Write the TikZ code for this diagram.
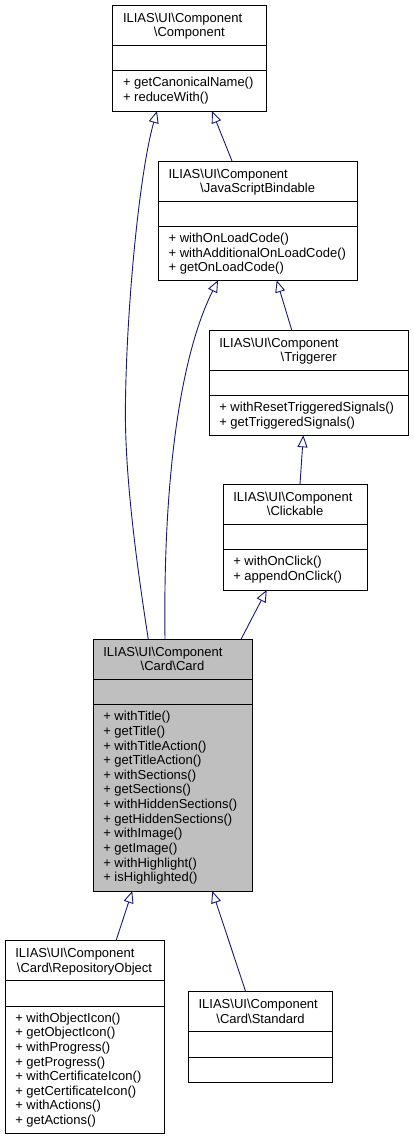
\documentclass[tikz,border=0pt]{standalone}
\usepackage{fontspec}
\setmainfont{Liberation Sans}
\usetikzlibrary{arrows.meta}
\definecolor{edgeblue}{HTML}{191970}
\definecolor{cardgray}{HTML}{BFBFBF}
\tikzset{
  classbox/.style={draw=black, line width=1pt, inner sep=0pt, outer sep=0pt},
  boxline/.style={draw=black, line width=1pt},
  txt/.style={inner sep=0pt, outer sep=0pt, font=\fontsize{13pt}{14.63pt}\selectfont},
  inherit/.style={draw=edgeblue, line width=0.9pt, -{Triangle[length=12pt,width=10pt,fill=white]}}
}
% id, L, T, R, B, fill, second title line
\newcommand{\umlbox}[7]{%
  \node[classbox, fill=#6, anchor=north west, minimum width={#4pt-#2pt}, minimum height={#5pt-#3pt}] (#1) at (#2,#3) {};
  \draw[boxline] ([yshift=-40pt]#1.north west) -- ([yshift=-40pt]#1.north east);
  \draw[boxline] ([yshift=-65.5pt]#1.north west) -- ([yshift=-65.5pt]#1.north east);
  \node[txt, anchor=base west] (#1-t1) at (#2+10.3,#3+17) {ILIAS\textbackslash UI\textbackslash Component};
  \node[txt, anchor=base] (#1-t2) at ({(#2+#4)/2},#3+31.6) {#7};
}
% L, T, list
\newcommand{\umlmethods}[3]{%
  \foreach \m [count=\i from 0] in {#3} {\node[txt, anchor=base west] at (#1+10.3, #2+81.5+\i*14.63) {+ \m};}
}
\begin{document}
\begin{tikzpicture}[x=1pt,y=-1pt]
\useasboundingbox (0,0) rectangle (413,1140);

\umlbox{comp}{112.7}{5.3}{266}{111}{white}{\textbackslash Component}
\umlmethods{112.7}{5.3}{getCanonicalName(),reduceWith()}

\umlbox{jsb}{158.3}{161}{357}{280.3}{white}{\textbackslash JavaScriptBindable}
\umlmethods{158.3}{161}{withOnLoadCode(),withAdditionalOnLoadCode(),getOnLoadCode()}

\umlbox{trig}{209}{330}{408.3}{435.3}{white}{\textbackslash Triggerer}
\umlmethods{209}{330}{withResetTriggeredSignals(),getTriggeredSignals()}

\umlbox{click}{223}{484.3}{367.3}{590}{white}{\textbackslash Clickable}
\umlmethods{223}{484.3}{withOnClick(),appendOnClick()}

\umlbox{card}{93}{639.3}{252}{891}{cardgray}{\textbackslash Card\textbackslash Card}
\umlmethods{93}{639.3}{withTitle(),getTitle(),withTitleAction(),getTitleAction(),withSections(),getSections(),withHiddenSections(),getHiddenSections(),withImage(),getImage(),withHighlight(),isHighlighted()}

\umlbox{repo}{5}{940.7}{164}{1133.7}{white}{\textbackslash Card\textbackslash RepositoryObject}
\umlmethods{5}{940.7}{withObjectIcon(),getObjectIcon(),withProgress(),getProgress(),withCertificateIcon(),getCertificateIcon(),withActions(),getActions()}

\umlbox{std}{188.3}{991.7}{332.7}{1082.7}{white}{\textbackslash Card\textbackslash Standard}

% connector end points
\coordinate (cardToComp) at (148.3,639.3);
\coordinate (compFromCard) at (157,111);
\coordinate (jsbToComp) at (232,161);
\coordinate (compFromJsb) at (212,111);
\coordinate (cardToJsb) at (165,639.3);
\coordinate (jsbFromCard) at (218,280.3);
\coordinate (trigToJsb) at (291.7,330);
\coordinate (jsbFromTrig) at (276.7,280.3);
\coordinate (clickToTrig) at (300,484.3);
\coordinate (trigFromClick) at (303.3,435.3);
\coordinate (cardToClick) at (241,639.3);
\coordinate (clickFromCard) at (266.7,590);
\coordinate (repoToCard) at (116,940.7);
\coordinate (cardFromRepo) at (132.3,891);
\coordinate (stdToCard) at (245.7,991.7);
\coordinate (cardFromStd) at (212.3,891);
\coordinate (compBendA) at (125.5,400);

\draw[inherit] (cardToComp) .. controls (136,560) and (124,470) .. (compBendA)
   .. controls (127,300) and (140,170) .. (compFromCard);
\draw[inherit] (jsbToComp) -- (compFromJsb);
\draw[inherit] (cardToJsb) .. controls (163,490) and (178,360) .. (jsbFromCard);
\draw[inherit] (trigToJsb) -- (jsbFromTrig);
\draw[inherit] (clickToTrig) -- (trigFromClick);
\draw[inherit] (cardToClick) -- (clickFromCard);
\draw[inherit] (repoToCard) -- (cardFromRepo);
\draw[inherit] (stdToCard) -- (cardFromStd);
\end{tikzpicture}
\end{document}
